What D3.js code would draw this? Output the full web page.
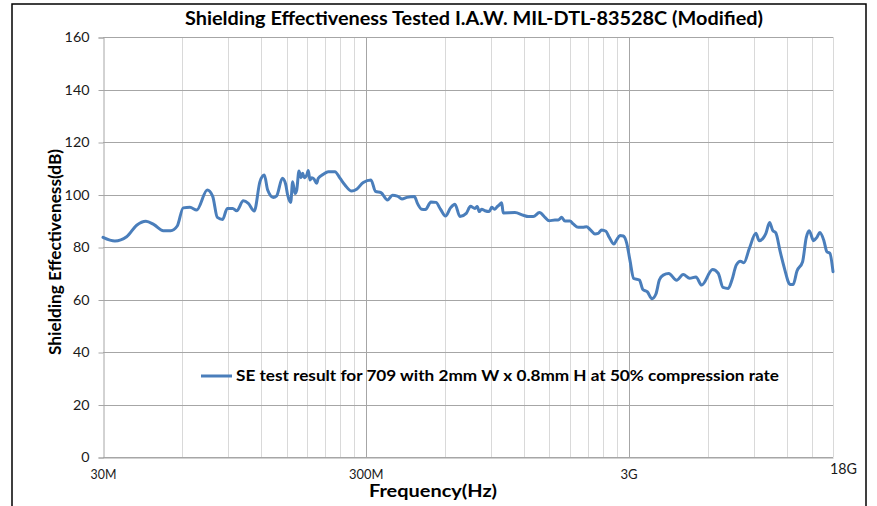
<!DOCTYPE html>
<html>
<head>
<meta charset="utf-8">
<script src="https://cdn.jsdelivr.net/npm/d3@7"></script>
<style>
  html, body { margin: 0; padding: 0; background: #fff; }
  svg { display: block; }
  text { font-family: Lato, "Open Sans", "Liberation Sans", sans-serif; }
</style>
</head>
<body>
<svg id="chart" width="877" height="506"></svg>
<script>
// ---- Data (frequency in MHz, shielding effectiveness in dB) ----
const freqMHz = [
  30, 33.3, 36.9, 40.3, 43.7, 46.9, 50.9, 54.3, 57.5, 60.6,
  64.3, 68.2, 74.8, 78.4, 81.7, 85.6, 89.1, 93.5, 96.8, 102.6,
  107.2, 112.9, 118.7, 123.3, 127.0, 133.4, 137.4, 144.4, 148.7, 151.3,
  155.4, 158.1, 161.3, 163.8, 167.1, 170.0, 172.6, 175.0, 178.8, 181.3,
  184.0, 186.8, 190.6, 195.1, 197.9, 206.8, 215.9, 229.0, 239.3, 250.0,
  265.1, 277.0, 293.5, 314.0, 326.6, 342.8, 362.9, 379.1, 395.4, 412.0,
  430.5, 459.7, 471.9, 489.6, 506.1, 531.1, 554.9, 577.2, 603.1, 631.2,
  655.4, 684.8, 723.7, 750.8, 781.0, 796.9, 811.0, 828.2, 852.5, 885.2,
  904.0, 930.6, 949.5, 966.3, 986.8, 1000.7, 1108.7, 1192.6, 1246.0, 1301.8,
  1374.3, 1442.1, 1497.4, 1574.2, 1620.3, 1669.4, 1718.4, 1795.3, 1848.0, 1930.7,
  2006.6, 2078.1, 2139.1, 2235.0, 2300.5, 2370.2, 2461.1, 2533.2, 2640.0, 2703.2,
  2782.5, 2864.0, 2950.5, 3036.9, 3139.8, 3300.9, 3402.3, 3540.3, 3682.8, 3813.9,
  3933.0, 4066.2, 4267.2, 4572.6, 4844.7, 5124.3, 5415.0, 5692.2, 6268.2, 6583.5,
  6861.0, 7186.8, 7423.8, 7708.5, 7997.1, 8245.8, 8652.3, 9159.3, 9428.1, 9997.8,
  10327.5, 10602.6, 10913.1, 11332.2, 11808.3, 12176.4, 12337.5, 12699.3, 13117.8, 13789.8,
  14231.7, 14610.9, 15185.7, 15630.9, 16047.3, 16619.4, 17061.6, 17516.1, 18000
];
const seDb = [
  83.7, 82.3, 83.9, 88.3, 89.8, 88.5, 86.2, 86.2, 88.0, 94.9,
  95.1, 94.1, 101.7, 99.4, 91.3, 90.5, 94.7, 94.7, 93.8, 97.6,
  96.6, 93.7, 104.9, 107.4, 101.7, 98.9, 99.5, 106.2, 103.9, 99.8,
  97.0, 104.9, 100.4, 101.7, 109.0, 106.4, 108.1, 106.4, 107.4, 109.1,
  105.5, 106.4, 105.9, 104.3, 106.2, 107.7, 108.7, 108.7, 106.2, 103.6,
  101.3, 102.0, 104.6, 105.5, 101.2, 100.7, 97.9, 99.7, 99.4, 98.3,
  98.9, 99.2, 96.6, 94.4, 94.3, 97.1, 97.0, 94.4, 91.8, 95.0,
  96.3, 91.6, 92.8, 95.5, 94.7, 95.4, 93.5, 94.4, 93.8, 93.5,
  95.1, 94.4, 95.4, 96.0, 96.9, 93.0, 93.1, 92.1, 91.6, 91.6,
  93.1, 91.3, 90.0, 90.3, 90.3, 91.3, 89.9, 89.9, 88.8, 87.5,
  87.5, 87.7, 86.7, 85.0, 85.2, 86.5, 86.0, 83.7, 81.1, 82.7,
  84.4, 84.2, 81.6, 75.0, 68.0, 67.4, 63.8, 62.9, 60.3, 62.1,
  67.5, 69.3, 69.9, 67.3, 69.5, 68.1, 68.6, 65.5, 71.4, 70.0,
  64.6, 64.2, 67.4, 73.1, 74.6, 74.0, 79.5, 85.2, 82.4, 85.2,
  89.3, 86.4, 85.3, 78.2, 71.2, 66.6, 65.7, 65.7, 70.8, 74.4,
  83.5, 86.2, 82.4, 83.7, 85.5, 82.4, 78.2, 77.6, 70.6
];
const yTickValues = [0, 20, 40, 60, 80, 100, 120, 140, 160];
const xTickValues = [30, 300, 3000, 18000];
const xTickLabels = ["30M", "300M", "3G", "18G"];
const seriesName = "SE test result for 709 with 2mm W x 0.8mm H at 50% compression rate";
const chartTitle = "Shielding Effectiveness Tested I.A.W. MIL-DTL-83528C (Modified)";
const xTitle = "Frequency(Hz)";
const yTitle = "Shielding Effectiveness(dB)";

// ---- Layout ----
const svg = d3.select("#chart");
const plot = { left: 103, right: 833, top: 37, bottom: 457 };
const x = d3.scaleLog().domain([30, 18000]).range([plot.left, plot.right]);
const y = d3.scaleLinear().domain([0, 160]).range([plot.bottom, plot.top]);

// outer chart border
svg.append("rect")
  .attr("x", 12).attr("y", 4).attr("width", 854).attr("height", 520)
  .attr("fill", "none").attr("stroke", "#000").attr("stroke-width", 1.5);

// vertical minor gridlines (30M x k)
const minorX = [];
[30, 300, 3000].forEach(base => {
  for (let k = 2; k <= 9; k++) {
    const v = base * k;
    if (v <= 18000) minorX.push(v);
  }
});
svg.append("g").selectAll("line").data(minorX).join("line")
  .attr("x1", d => Math.round(x(d)) + 0.5).attr("x2", d => Math.round(x(d)) + 0.5)
  .attr("y1", plot.top).attr("y2", plot.bottom)
  .attr("stroke", "#d9d9d9").attr("stroke-width", 1);

// horizontal gridlines
svg.append("g").selectAll("line").data(yTickValues).join("line")
  .attr("x1", plot.left).attr("x2", plot.right)
  .attr("y1", d => Math.round(y(d)) + 0.5).attr("y2", d => Math.round(y(d)) + 0.5)
  .attr("stroke", "#a6a6a6").attr("stroke-width", 1);

// vertical major gridlines
svg.append("g").selectAll("line").data([300, 3000]).join("line")
  .attr("x1", d => Math.round(x(d)) + 0.5).attr("x2", d => Math.round(x(d)) + 0.5)
  .attr("y1", plot.top).attr("y2", plot.bottom)
  .attr("stroke", "#a6a6a6").attr("stroke-width", 1);

// Y axis
const yAxis = d3.axisLeft(y).tickValues(yTickValues).tickSize(5).tickPadding(9);
const gy = svg.append("g").attr("transform", `translate(${plot.left + 0.5},0.5)`).call(yAxis);
gy.select(".domain").attr("stroke", "#a6a6a6");
gy.selectAll(".tick line").attr("stroke", "#a6a6a6");
gy.selectAll(".tick text")
  .attr("font-family", "Lato, 'Open Sans', sans-serif")
  .attr("font-size", 13.5).attr("fill", "#1a1a1a")
  .attr("textLength", d => String(d).length * 8.3)
  .attr("lengthAdjust", "spacingAndGlyphs");

// X axis
const xAxis = d3.axisBottom(x).tickValues(xTickValues)
  .tickFormat((d, i) => xTickLabels[i]).tickSize(0).tickPadding(12);
const gx = svg.append("g").attr("transform", `translate(0,${plot.bottom + 0.5})`).call(xAxis);
gx.select(".domain").attr("stroke", "#a6a6a6");
gx.selectAll(".tick text")
  .attr("font-family", "Lato, 'Open Sans', sans-serif")
  .attr("font-size", 13.5).attr("fill", "#1a1a1a")
  .attr("textLength", (d, i) => xTickLabels[i].length * 8.6)
  .attr("lengthAdjust", "spacingAndGlyphs");
gx.selectAll(".tick").filter(d => d === 18000).select("text")
  .attr("font-size", 15).attr("dy", "0.3em").attr("dx", 10)
  .attr("textLength", 27);

// Data line
const line = d3.line()
  .x((d, i) => x(freqMHz[i]))
  .y(d => y(d))
  .curve(d3.curveMonotoneX);
svg.append("path")
  .datum(seDb)
  .attr("d", line)
  .attr("fill", "none")
  .attr("stroke", "#4a7ebb")
  .attr("stroke-width", 3)
  .attr("stroke-linejoin", "round")
  .attr("stroke-linecap", "round");

// Legend
svg.append("line")
  .attr("x1", 201).attr("x2", 232).attr("y1", 376).attr("y2", 376)
  .attr("stroke", "#4a7ebb").attr("stroke-width", 3);
svg.append("text")
  .attr("x", 236).attr("y", 381)
  .attr("font-size", 14.5).attr("font-weight", "bold").attr("fill", "#000")
  .attr("textLength", 543).attr("lengthAdjust", "spacingAndGlyphs")
  .text(seriesName);

// Title
svg.append("text")
  .attr("x", 185).attr("y", 25)
  .attr("font-size", 18).attr("font-weight", "bold").attr("fill", "#000")
  .attr("textLength", 578).attr("lengthAdjust", "spacingAndGlyphs")
  .text(chartTitle);

// X axis title
svg.append("text")
  .attr("x", 369).attr("y", 497)
  .attr("font-size", 16.5).attr("font-weight", "bold").attr("fill", "#000")
  .attr("textLength", 128).attr("lengthAdjust", "spacingAndGlyphs")
  .text(xTitle);

// Y axis title
svg.append("text")
  .attr("transform", "translate(61,355) rotate(-90)")
  .attr("x", 0).attr("y", 0)
  .attr("font-size", 17).attr("font-weight", "bold").attr("fill", "#000")
  .attr("textLength", 206).attr("lengthAdjust", "spacingAndGlyphs")
  .text(yTitle);
</script>
</body>
</html>
